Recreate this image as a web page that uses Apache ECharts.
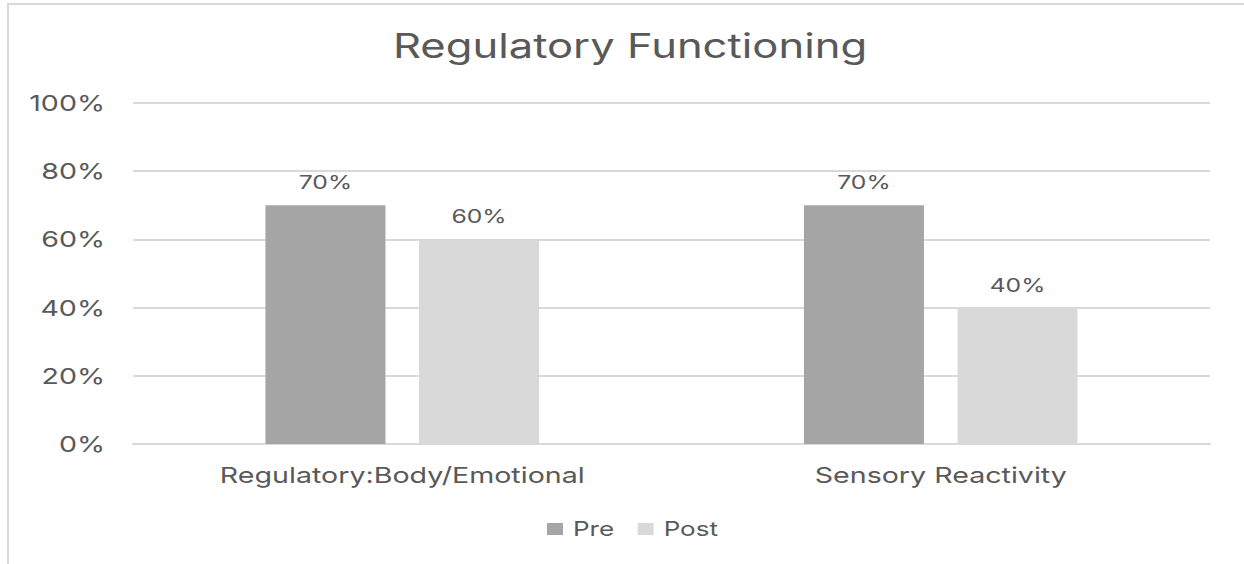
<!DOCTYPE html>
<html>
<head>
<meta charset="utf-8">
<style>
	html, body { margin: 0; padding: 0; background: #fff; }
	.frame {
		position: absolute;
		left: 7px; top: 3px;
		width: 1237px; height: 561px;
		border-left: 2px solid #d9d9d9;
		border-top: 2px solid #d9d9d9;
		box-sizing: border-box;
	}
	#main { position: absolute; left: 0; top: 0; width: 1244px; height: 564px; }
</style>
<script src="https://cdn.jsdelivr.net/npm/echarts@6/dist/echarts.min.js"></script>
</head>
<body>
<div class="frame"></div>
<div id="main"></div>
<script>
var categories = ['Regulatory:Body/Emotional', 'Sensory Reactivity'];
var preValues = [70, 70];
var postValues = [60, 40];
var yTicks = [0, 20, 40, 60, 80, 100];

var textColor = '#595959';
var fontFam = 'Inter, "Noto Sans", sans-serif';
// the original lettering is wider than any installed font
var textStretch = 1.3;

var myChart = echarts.init(document.getElementById('main'), null, { renderer: 'svg' });

var option = {
	backgroundColor: 'transparent',
	animation: false,
	title: {
		text: 'Regulatory Functioning',
		left: 625,
		textAlign: 'center',
		top: 24,
		textStyle: {
			color: textColor,
			fontSize: 33.5,
			fontWeight: 'normal',
			fontFamily: fontFam
		}
	},
	legend: {
		left: 547,
		bottom: 25,
		padding: 0,
		itemWidth: 16,
		itemHeight: 12,
		itemGap: 33,
		icon: 'rect',
		textStyle: { color: textColor, fontSize: 20, fontFamily: fontFam, padding: [0, 0, 0, 5] }
	},
	grid: {
		left: 133,
		right: 34,
		top: 103,
		bottom: 120,
		containLabel: false
	},
	xAxis: {
		type: 'category',
		data: categories,
		axisLine: { lineStyle: { color: '#d9d9d9', width: 2 } },
		axisTick: { show: false },
		axisLabel: { color: textColor, fontSize: 22, margin: 20, fontFamily: fontFam }
	},
	yAxis: {
		type: 'value',
		min: yTicks[0],
		max: yTicks[yTicks.length - 1],
		interval: 20,
		axisLine: { show: false },
		axisTick: { show: false },
		splitLine: { lineStyle: { color: '#d9d9d9', width: 2 } },
		axisLabel: {
			color: textColor,
			fontSize: 22,
			margin: 28,
			fontFamily: fontFam,
			formatter: '{value}%'
		}
	},
	series: [
		{
			name: 'Pre',
			type: 'bar',
			data: preValues,
			barWidth: 120,
			barGap: '28%',
			itemStyle: { color: '#a5a5a5' },
			label: {
				show: true, position: 'top', distance: 13,
				color: textColor, fontSize: 19, fontFamily: fontFam,
				formatter: '{c}%'
			}
		},
		{
			name: 'Post',
			type: 'bar',
			data: postValues,
			barWidth: 120,
			itemStyle: { color: '#d9d9d9' },
			label: {
				show: true, position: 'top', distance: 13,
				color: textColor, fontSize: 19, fontFamily: fontFam,
				formatter: '{c}%'
			}
		}
	]
};

// widen the glyphs once the svg is drawn
myChart.on('finished', function () {
	var texts = document.querySelectorAll('#main svg text');
	for (var i = 0; i < texts.length; i++) {
		var t = texts[i];
		if (t.getAttribute('lengthAdjust')) continue;
		var len = t.getComputedTextLength();
		if (!len) continue;
		t.setAttribute('textLength', len * textStretch);
		t.setAttribute('lengthAdjust', 'spacingAndGlyphs');
	}
});

myChart.setOption(option);
</script>
</body>
</html>
